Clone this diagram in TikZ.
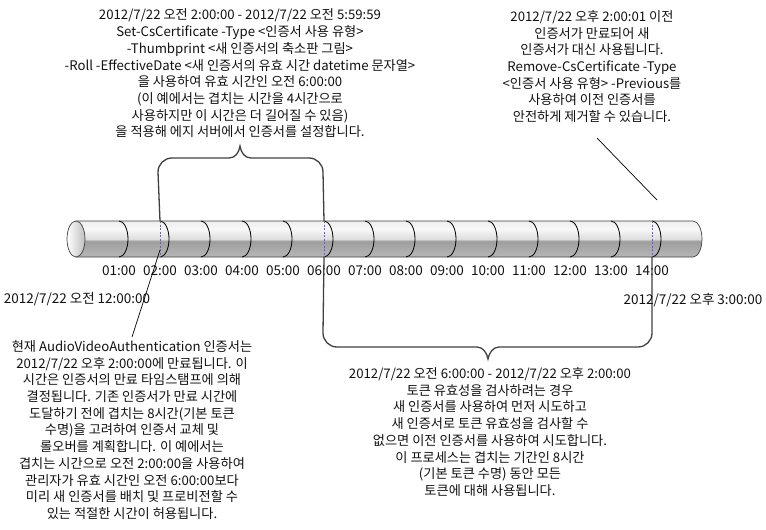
\documentclass[tikz,border=0pt]{standalone}
\usepackage{fontspec}
\setmainfont{Noto Sans CJK KR}
\definecolor{cylA}{HTML}{D2D2D2}
\definecolor{cylB}{HTML}{9E9E9E}
\definecolor{cylC}{HTML}{DEDEDE}
\definecolor{cylD}{HTML}{F8F8F8}
\definecolor{cylE}{HTML}{D8D8D8}
\definecolor{edgegray}{HTML}{404040}
\definecolor{txt}{HTML}{111111}
\pgfdeclareverticalshading{cylshade}{100bp}{color(0bp)=(cylA); color(47bp)=(cylB); color(50bp)=(cylC); color(64bp)=(cylD); color(100bp)=(cylE)}
\begin{document}
\begin{tikzpicture}[x=1pt,y=1pt,
  txtblock/.style={align=center,text=txt,font=\fontsize{13.2}{16.7}\selectfont,inner sep=0pt},
  ticklbl/.style={text=txt,font=\fontsize{13.5}{15}\selectfont,inner sep=0pt},
  bracepath/.style={draw=edgegray,line width=1.3pt},
  thinline/.style={draw=black,line width=0.7pt},
  segarc/.style={draw=black,line width=0.8pt},
  dashline/.style={draw=gray!80!blue,line width=0.8pt,dash pattern=on 2pt off 1.5pt}]
\useasboundingbox (0,0) rectangle (766,-530);
% cylinder body
\shade[shading=cylshade,draw=edgegray,line width=0.7pt]
  (76,-221) -- (693,-221) arc[start angle=90,end angle=-90,x radius=9,y radius=18] -- (76,-257) -- cycle;
% left cap
\shade[left color=white,right color=gray!50,draw=edgegray,line width=0.7pt] (76,-239) ellipse[x radius=9,y radius=18];
% tick coordinates and labels
\foreach \k in {1,...,14}{
  \pgfmathsetmacro{\xx}{78+41*\k}
  \coordinate (t\k) at (\xx,-221);
  \coordinate (b\k) at (\xx,-257);
}
\foreach \k in {1,...,14}{
  \draw[segarc] (t\k) arc[start angle=90,end angle=-90,x radius=9,y radius=18];
}
\foreach \k/\lab in {1/01:00,2/02:00,3/03:00,4/04:00,5/05:00,6/06:00,7/07:00,8/08:00,9/09:00,10/10:00,11/11:00,12/12:00,13/13:00,14/14:00}{
  \node[ticklbl] (l\k) at ([yshift=-14pt]b\k) {\lab};
}
\draw[dashline] (t2) -- (b2);
\draw[dashline] (t6) -- (b6);
\draw[dashline] (t14) -- (b14);
% top brace
\coordinate (tbtip) at (240,-146);
\draw[bracepath] (t2) -- (158,-172) arc[start angle=180,end angle=90,radius=14] -- (229,-158)
  .. controls (235,-158) and (239,-153) .. (tbtip)
  .. controls (241,-153) and (245,-158) .. (251,-158)
  -- (309,-158) arc[start angle=90,end angle=0,radius=14] -- (t6);
% bottom brace
\coordinate (bbtip) at (488,-359);
\draw[bracepath] (b6) -- (323,-333) arc[start angle=180,end angle=270,radius=14] -- (477,-347)
  .. controls (483,-347) and (487,-353) .. (bbtip)
  .. controls (489,-353) and (493,-347) .. (499,-347)
  -- (638,-347) arc[start angle=270,end angle=360,radius=14] -- (b14);
% texts
\node[txtblock] (toptext) at (240,-73.5) {2012/7/22 오전 2:00:00 - 2012/7/22 오전 5:59:59\\
Set-CsCertificate -Type <인증서 사용 유형>\\
-Thumbprint <새 인증서의 축소판 그림>\\
-Roll -EffectiveDate <새 인증서의 유효 시간 datetime 문자열>\\
을 사용하여 유효 시간인 오전 6:00:00\\
(이 예에서는 겹치는 시간을 4시간으로\\
사용하지만 이 시간은 더 길어질 수 있음)\\
을 적용해 에지 서버에서 인증서를 설정합니다.};
\node[txtblock] (righttext) at (592,-66.5) {2012/7/22 오후 2:00:01 이전\\
인증서가 만료되어 새\\
인증서가 대신 사용됩니다.\\
Remove-CsCertificate -Type\\
<인증서 사용 유형> -Previous를\\
사용하여 이전 인증서를\\
안전하게 제거할 수 있습니다.};
\node[txtblock] (lefttext) at (132,-430) {현재 AudioVideoAuthentication 인증서는\\
2012/7/22 오후 2:00:00에 만료됩니다. 이\\
시간은 인증서의 만료 타임스탬프에 의해\\
결정됩니다. 기존 인증서가 만료 시간에\\
도달하기 전에 겹치는 8시간(기본 토큰\\
수명)을 고려하여 인증서 교체 및\\
롤오버를 계획합니다. 이 예에서는\\
겹치는 시간으로 오전 2:00:00을 사용하여\\
관리자가 유효 시간인 오전 6:00:00보다\\
미리 새 인증서를 배치 및 프로비전할 수\\
있는 적절한 시간이 허용됩니다.};
\node[txtblock] (midtext) at (490,-432) {2012/7/22 오전 6:00:00 - 2012/7/22 오후 2:00:00\\
토큰 유효성을 검사하려는 경우\\
새 인증서를 사용하여 먼저 시도하고\\
새 인증서로 토큰 유효성을 검사할 수\\
없으면 이전 인증서를 사용하여 시도합니다.\\
이 프로세스는 겹치는 기간인 8시간\\
(기본 토큰 수명) 동안 모든\\
토큰에 대해 사용됩니다.};
\node[ticklbl] (startlbl) at (77,-299) {2012/7/22 오전 12:00:00};
\node[ticklbl] (endlbl) at (693,-300) {2012/7/22 오후 3:00:00};
% pointer lines
\coordinate (lp1) at (160,-250);
\coordinate (lp2) at (132,-337);
\draw[thinline] (lp1) -- (lp2);
\coordinate (rp1) at (597,-138);
\coordinate (rp2) at (657,-200);
\draw[thinline] (rp1) -- (rp2);
\end{tikzpicture}
\end{document}
